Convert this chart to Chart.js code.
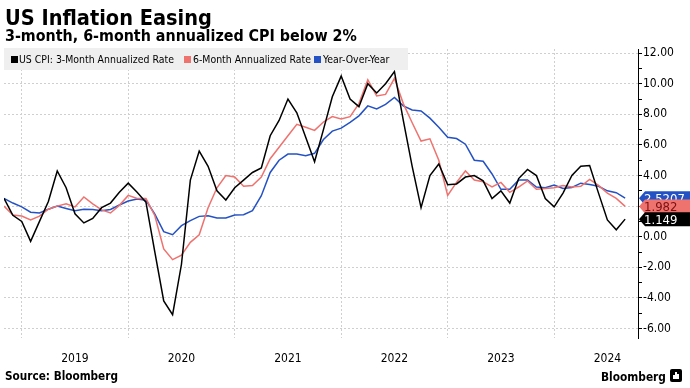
<!DOCTYPE html>
<html>
<head>
<meta charset="utf-8">
<script src="https://cdn.jsdelivr.net/npm/chart.js@4.4.1/dist/chart.umd.min.js"></script>
<style>
html,body{margin:0;padding:0;background:#fff;}
#wrap{position:relative;width:690px;height:388px;overflow:hidden;font-family:"DejaVu Sans Condensed","DejaVu Sans",sans-serif;color:#000;}
#c{position:absolute;left:0;top:0;}
.t{position:absolute;white-space:nowrap;line-height:1;}
.b{font-weight:bold;}
#band{position:absolute;left:4px;top:48px;width:404px;height:22px;background:#efefef;}
.sq{position:absolute;width:7px;height:7px;top:56px;}
#logo{position:absolute;left:670px;top:369px;width:12px;height:13px;background:#000;border-radius:2px;}
#logo i{position:absolute;bottom:3px;width:2px;background:#fff;}
</style>
</head>
<body>
<div id="wrap">
  <canvas id="c" width="690" height="388"></canvas>
  <div id="title" class="t b">US Inflation Easing</div>
  <div id="subtitle" class="t b">3-month, 6-month annualized CPI below 2%</div>
  <div id="band"></div>
  <div id="sq0" class="sq"></div><div id="lg0" class="t"></div>
  <div id="sq1" class="sq"></div><div id="lg1" class="t"></div>
  <div id="sq2" class="sq"></div><div id="lg2" class="t"></div>
  <div id="source" class="t b">Source: Bloomberg</div>
  <div id="brand" class="t" style="font-weight:600">Bloomberg</div>
  <div id="logo"><i style="left:3px;height:4px"></i><i style="left:5px;height:7px"></i><i style="left:7px;height:5px"></i></div>
</div>
<script>
// ---------------- data ----------------
const months = [
 "Oct 2018","Nov 2018","Dec 2018",
 "Jan 2019","Feb 2019","Mar 2019","Apr 2019","May 2019","Jun 2019","Jul 2019","Aug 2019","Sep 2019","Oct 2019","Nov 2019","Dec 2019",
 "Jan 2020","Feb 2020","Mar 2020","Apr 2020","May 2020","Jun 2020","Jul 2020","Aug 2020","Sep 2020","Oct 2020","Nov 2020","Dec 2020",
 "Jan 2021","Feb 2021","Mar 2021","Apr 2021","May 2021","Jun 2021","Jul 2021","Aug 2021","Sep 2021","Oct 2021","Nov 2021","Dec 2021",
 "Jan 2022","Feb 2022","Mar 2022","Apr 2022","May 2022","Jun 2022","Jul 2022","Aug 2022","Sep 2022","Oct 2022","Nov 2022","Dec 2022",
 "Jan 2023","Feb 2023","Mar 2023","Apr 2023","May 2023","Jun 2023","Jul 2023","Aug 2023","Sep 2023","Oct 2023","Nov 2023","Dec 2023",
 "Jan 2024","Feb 2024","Mar 2024","Apr 2024","May 2024","Jun 2024","Jul 2024","Aug 2024"
];
const cpi3m = [
 2.5,1.4,1.0,
 -0.3,1.0,2.3,4.3,3.2,1.5,0.9,1.2,1.9,2.2,2.9,3.5,
 2.9,2.25,-1.0,-4.2,-5.1,-1.8,3.7,5.6,4.6,3.0,2.4,3.2,
 3.7,4.2,4.5,6.6,7.6,9.0,8.1,6.5,4.9,7.0,9.15,10.5,
 9.0,8.5,10.0,9.4,10.0,10.8,7.6,4.6,1.9,4.0,4.75,3.4,
 3.45,3.9,4.0,3.65,2.5,3.0,2.2,3.8,4.4,4.0,2.5,1.95,
 2.85,4.0,4.6,4.65,2.85,1.1,0.45,1.149
];
const cpi6m = [
 2.0,1.42,1.35,
 1.1,1.35,1.8,2.0,2.15,1.95,2.6,2.15,1.75,1.55,2.05,2.7,
 2.5,2.5,1.37,-0.8,-1.5,-1.2,-0.37,0.13,1.9,3.2,4.0,3.9,
 3.3,3.35,3.9,5.1,5.85,6.6,7.35,7.15,6.95,7.5,7.85,7.7,
 7.85,8.7,10.25,9.2,9.3,10.35,8.7,7.45,6.25,6.4,5.0,2.7,
 3.55,4.3,3.7,3.6,3.25,3.55,2.9,3.25,3.65,3.1,3.15,3.2,
 3.35,3.25,3.3,3.75,3.35,2.85,2.5,1.982
];
const cpiYoY = [
 2.5,2.2,1.95,
 1.6,1.55,1.8,2.0,1.85,1.7,1.8,1.78,1.7,1.78,2.07,2.33,
 2.46,2.38,1.48,0.33,0.13,0.72,1.05,1.33,1.37,1.22,1.22,1.42,
 1.44,1.7,2.68,4.2,5.0,5.4,5.4,5.3,5.45,6.35,6.9,7.1,
 7.48,7.9,8.55,8.35,8.65,9.1,8.55,8.28,8.22,7.75,7.15,6.5,
 6.42,6.05,5.0,4.93,4.1,3.1,3.1,3.7,3.7,3.25,3.2,3.38,
 3.16,3.22,3.5,3.42,3.3,3.0,2.88,2.5207
];
const seriesNames = ["US CPI: 3-Month Annualized Rate","6-Month Annualized Rate","Year-Over-Year"];
const seriesColors = ["#000000","#ee726e","#2452c4"];
const tagTextColors = ["#ffffff","#7a1010","#ffffff"];
const lastLabels = ["1.149","1.982","2.5207"];
const yTickValues = [-6,-5,-4,-3,-2,-1,0,1,2,3,4,5,6,7,8,9,10,11,12];

// ---------------- layout helpers ----------------
const FONT = '"DejaVu Sans Condensed","DejaVu Sans",sans-serif';
function fit(el, width, base){
  el.style.fontSize = base + 'px';
  const w = el.getBoundingClientRect().width;
  const fs = base * width / w;
  el.style.fontSize = fs.toFixed(2) + 'px';
  return fs;
}
function place(el, left, baseline, fs){
  el.style.left = left + 'px';
  el.style.top = (baseline - 0.846 * fs).toFixed(2) + 'px';
}
let fs = fit(document.getElementById('title'), 207, 20);
place(document.getElementById('title'), 5, 25, fs);
fs = fit(document.getElementById('subtitle'), 352, 15);
place(document.getElementById('subtitle'), 5, 41, fs);
const lgX = [19,193,323], sqX = [11,184,314];
seriesNames.forEach((n,i)=>{ document.getElementById('lg'+i).textContent = n; });
const lfs = fit(document.getElementById('lg0'), 155, 11);
seriesNames.forEach((n,i)=>{
  const el = document.getElementById('lg'+i);
  el.style.fontSize = lfs.toFixed(2)+'px';
  place(el, lgX[i], 63, lfs);
  const sq = document.getElementById('sq'+i);
  sq.style.left = sqX[i]+'px'; sq.style.background = seriesColors[i];
});
fs = fit(document.getElementById('source'), 113, 11);
place(document.getElementById('source'), 5, 381, fs);
fs = fit(document.getElementById('brand'), 65, 13);
place(document.getElementById('brand'), 601, 382, fs);

// ---------------- x ticks from categories ----------------
const boundaryIdx = [], midIdx = [], midLabel = {};
months.forEach((m,i)=>{
  if (m.startsWith('Dec')) boundaryIdx.push(i);
  if (m.startsWith('Jun')) { midIdx.push(i); midLabel[i] = m.slice(4); }
});
const xTickValues = boundaryIdx.concat(midIdx).sort((a,b)=>a-b);

// ---------------- end tags plugin ----------------
const endTags = {
  id: 'endTags',
  afterDraw(chart){
    const ctx = chart.ctx, ys = chart.scales.y;
    const x0 = chart.chartArea.right + 1;
    [2,1,0].forEach(di=>{
      const d = chart.data.datasets[di].data;
      const py = ys.getPixelForValue(d[d.length-1].y);
      ctx.save();
      ctx.fillStyle = seriesColors[di];
      ctx.beginPath();
      ctx.moveTo(x0, py);
      ctx.lineTo(x0+6, py-7);
      ctx.lineTo(690, py-7);
      ctx.lineTo(690, py+7);
      ctx.lineTo(x0+6, py+7);
      ctx.closePath();
      ctx.fill();
      ctx.fillStyle = tagTextColors[di];
      ctx.font = '13px ' + FONT;
      ctx.textAlign = 'left';
      ctx.textBaseline = 'middle';
      ctx.fillText(lastLabels[di], x0+5, py+1);
      ctx.restore();
    });
  }
};

const series = [cpi3m, cpi6m, cpiYoY];
new Chart(document.getElementById('c'), {
  type: 'line',
  data: {
    datasets: series.map((s,i)=>({
      label: seriesNames[i],
      data: s.map((v,j)=>({x:j, y:v})),
      borderColor: seriesColors[i],
      backgroundColor: seriesColors[i],
      borderWidth: 1.5,
      pointRadius: 0,
      tension: 0,
      fill: false
    }))
  },
  options: {
    responsive: false,
    devicePixelRatio: 1,
    animation: false,
    events: [],
    layout: { padding: { left: 4, top: 49, right: 0, bottom: 0 } },
    plugins: { legend: { display: false }, tooltip: { enabled: false }, title: { display: false } },
    scales: {
      x: {
        type: 'linear',
        min: 0,
        max: 71.45,
        afterBuildTicks: s => { s.ticks = xTickValues.map(v=>({value:v})); },
        afterFit: s => { s.height = 50; },
        ticks: {
          autoSkip: false, maxRotation: 0, padding: 14,
          color: '#000',
          font: { family: FONT, size: 12 },
          callback: v => midLabel[v] || ''
        },
        grid: {
          drawTicks: false,
          color: c => (c.tick && boundaryIdx.includes(c.tick.value)) ? '#cfcfcf' : 'rgba(0,0,0,0)',
          lineWidth: 1
        },
        border: { display: false, dash: [2,2] }
      },
      y: {
        type: 'linear',
        position: 'right',
        min: -6.62,
        max: 12.27,
        afterBuildTicks: s => { s.ticks = yTickValues.map(v=>({value:v})); },
        afterFit: s => { s.width = 52; },
        ticks: {
          autoSkip: false, padding: 1,
          color: '#000',
          font: { family: FONT, size: 12 },
          callback: v => (v % 2 === 0) ? v.toFixed(2) : ''
        },
        grid: {
          drawTicks: true,
          tickLength: 4,
          tickColor: '#000',
          color: c => (c.tick && c.tick.value % 2 === 0) ? '#cfcfcf' : 'rgba(0,0,0,0)',
          lineWidth: 1
        },
        border: { display: true, color: '#000', width: 1, dash: [2,2] }
      }
    }
  },
  plugins: [endTags]
});
</script>
</body>
</html>
